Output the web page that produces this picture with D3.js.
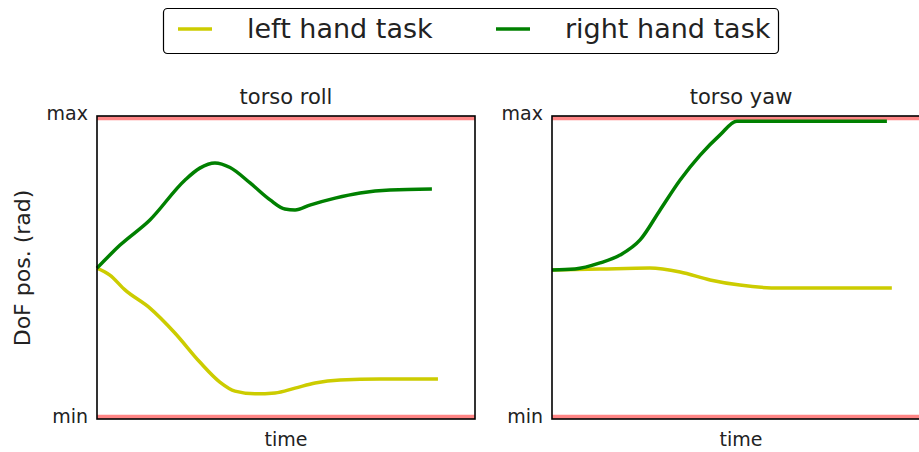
<!DOCTYPE html>
<html>
<head>
<meta charset="utf-8">
<script src="https://cdn.jsdelivr.net/npm/d3@7"></script>
<style>
  html, body { margin: 0; padding: 0; background: #fff; }
  svg { display: block; font-family: "DejaVu Sans", sans-serif; }
</style>
</head>
<body>
<svg id="chart" width="919" height="452"></svg>
<script>
// Normalised time (0..1) and joint position (0 = min, 1 = max)
const seriesNames = ["left hand task", "right hand task"];
const seriesColors = ["#cccc00", "#008000"];
const panelTitles = ["torso roll", "torso yaw"];
const yTickLabels = ["min", "max"];

// torso roll
const rollLeftT  = [0, 0.034, 0.074, 0.140, 0.206, 0.272, 0.325, 0.365, 0.418, 0.471, 0.524, 0.577, 0.643, 0.749, 0.902];
const rollLeftV  = [0.498, 0.475, 0.426, 0.366, 0.284, 0.188, 0.122, 0.092, 0.083, 0.086, 0.102, 0.119, 0.129, 0.132, 0.132];
const rollRightT = [0, 0.061, 0.140, 0.233, 0.272, 0.312, 0.352, 0.405, 0.458, 0.497, 0.524, 0.563, 0.630, 0.696, 0.775, 0.886];
const rollRightV = [0.498, 0.574, 0.657, 0.789, 0.828, 0.845, 0.830, 0.779, 0.723, 0.693, 0.690, 0.706, 0.729, 0.746, 0.756, 0.759];

// torso yaw
const yawLeftT  = [0, 0.127, 0.259, 0.339, 0.418, 0.497, 0.603, 0.735, 0.899];
const yawLeftV  = [0.492, 0.495, 0.498, 0.485, 0.459, 0.442, 0.432, 0.432, 0.432];
const yawRightT = [0, 0.061, 0.127, 0.180, 0.233, 0.286, 0.339, 0.392, 0.444, 0.489, 0.550, 0.886];
const yawRightV = [0.492, 0.495, 0.515, 0.541, 0.591, 0.690, 0.789, 0.871, 0.937, 0.983, 0.983, 0.983];

const panels = [
  { title: panelTitles[0], series: [[rollLeftT, rollLeftV], [rollRightT, rollRightV]], x0: 97 },
  { title: panelTitles[1], series: [[yawLeftT, yawLeftV], [yawRightT, yawRightV]], x0: 552 }
];

const svg = d3.select("#chart");
const plotW = 378, plotTop = 116, plotBottom = 419;

const y = d3.scaleLinear().domain([0, 1]).range([plotBottom, plotTop]);

panels.forEach((p, i) => {
  const x = d3.scaleLinear().domain([0, 1]).range([p.x0, p.x0 + plotW]);
  const g = svg.append("g");
  const clipId = "clip" + i;
  svg.append("clipPath").attr("id", clipId)
    .append("rect").attr("x", p.x0).attr("y", plotTop).attr("width", plotW).attr("height", plotBottom - plotTop);

  // joint limits
  const limits = g.append("g").attr("clip-path", `url(#${clipId})`);
  [0, 1].forEach(v => {
    limits.append("line")
      .attr("x1", x(0)).attr("x2", x(1))
      .attr("y1", y(v)).attr("y2", y(v))
      .attr("stroke", "#ff7070").attr("stroke-opacity", 0.85)
      .attr("stroke-width", 8.5);
  });

  const line = d3.line()
    .x(d => x(d[0])).y(d => y(d[1]))
    .curve(d3.curveMonotoneX);

  p.series.forEach((s, k) => {
    const pts = s[0].map((t, j) => [t, s[1][j]]);
    g.append("path")
      .attr("d", line(pts))
      .attr("fill", "none")
      .attr("stroke", seriesColors[k])
      .attr("stroke-width", 3.5)
      .attr("stroke-linejoin", "round")
      .attr("stroke-linecap", "butt");
  });

  // frame
  g.append("rect")
    .attr("x", p.x0).attr("y", plotTop).attr("width", plotW).attr("height", plotBottom - plotTop)
    .attr("fill", "none").attr("stroke", "#000").attr("stroke-width", 1.6);

  // y ticks
  const yAxis = d3.axisLeft(y).tickValues([0, 1]).tickFormat((d, j) => yTickLabels[j]).tickSize(0).tickPadding(9);
  const ag = g.append("g").attr("transform", `translate(${p.x0},0)`).call(yAxis);
  ag.select(".domain").remove();
  ag.selectAll("text").attr("font-size", 19).attr("fill", "#222").attr("font-family", "DejaVu Sans, sans-serif")
    .attr("dy", "0.2em");

  g.append("text")
    .attr("x", p.x0 + plotW / 2).attr("y", 104)
    .attr("text-anchor", "middle").attr("font-size", 21).attr("fill", "#222")
    .text(p.title);

  g.append("text")
    .attr("x", p.x0 + plotW / 2).attr("y", 446)
    .attr("text-anchor", "middle").attr("font-size", 19).attr("fill", "#222")
    .text("time");
});

svg.append("text")
  .attr("transform", "translate(30,268) rotate(-90)")
  .attr("text-anchor", "middle").attr("font-size", 22).attr("fill", "#222")
  .text("DoF pos. (rad)");

// legend
const lg = svg.append("g");
lg.append("rect")
  .attr("x", 163.5).attr("y", 8.5).attr("width", 615).attr("height", 45)
  .attr("rx", 4).attr("fill", "#fff").attr("stroke", "#000").attr("stroke-width", 1.2);
const legendX = [178, 496];
seriesNames.forEach((name, k) => {
  lg.append("line")
    .attr("x1", legendX[k]).attr("x2", legendX[k] + 34)
    .attr("y1", 29).attr("y2", 29)
    .attr("stroke", seriesColors[k]).attr("stroke-width", 3.5);
  lg.append("text")
    .attr("x", legendX[k] + 69).attr("y", 38)
    .attr("font-size", 27).attr("fill", "#222")
    .text(name);
});
</script>
</body>
</html>
